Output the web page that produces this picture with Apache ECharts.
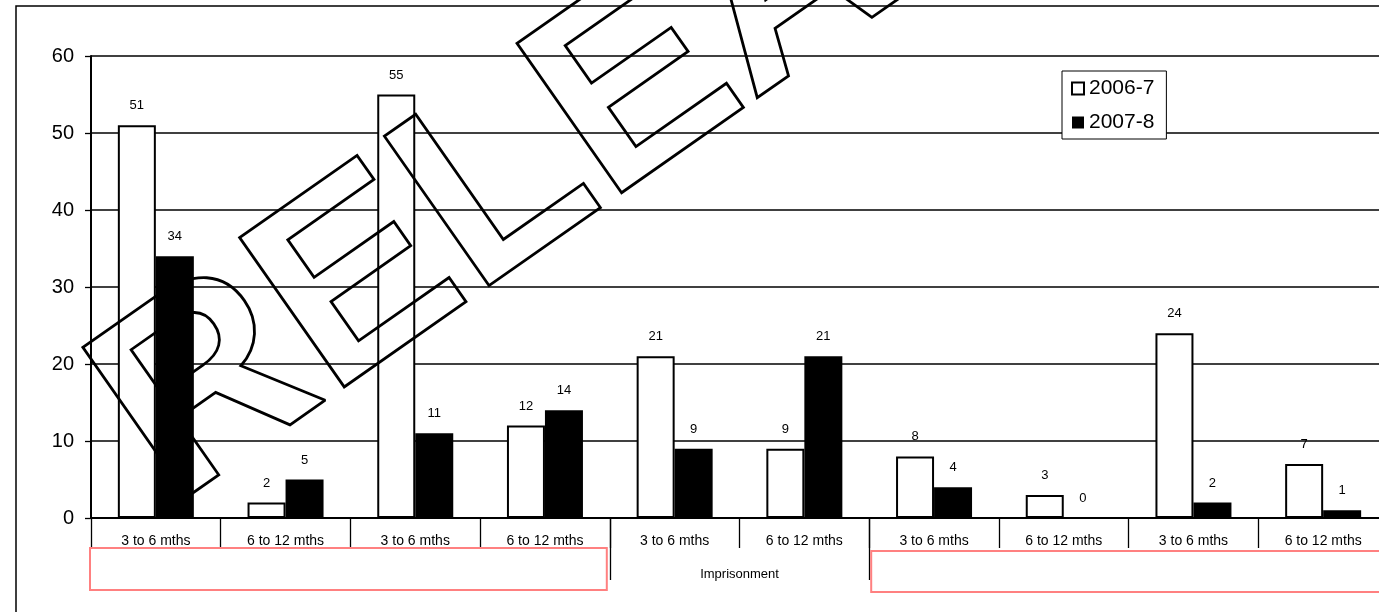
<!DOCTYPE html>
<html><head><meta charset="utf-8">
<script src="https://cdn.jsdelivr.net/npm/echarts@6/dist/echarts.min.js"></script>
<style>html,body{margin:0;padding:0;background:#fff;overflow:hidden;width:1379px;height:612px}#c{width:1388px;height:612px}</style>
</head><body><div id="c"></div>
<script>
const categories = ['3 to 6 mths','6 to 12 mths','3 to 6 mths','6 to 12 mths','3 to 6 mths','6 to 12 mths','3 to 6 mths','6 to 12 mths','3 to 6 mths','6 to 12 mths'];
const seriesNames = ['2006-7','2007-8'];
const values2006 = [51, 2, 55, 12, 21, 9, 8, 3, 24, 7];
const values2007 = [34, 5, 11, 14, 9, 21, 4, 0, 2, 1];
const yTicks = [0, 10, 20, 30, 40, 50, 60];
const groupLabel = 'Imprisonment';
const watermarkText = 'RELEASED';

const FONT = '"Liberation Sans", Arial, sans-serif';
const chart = echarts.init(document.getElementById('c'), null, {renderer: 'canvas'});
const option = {
  animation: false,
  backgroundColor: '#fff',
  grid: {left: 91, right: 0, top: 56, bottom: 94, containLabel: false},
  legend: {
    orient: 'vertical', left: 1062, top: 71, padding: [7, 12, 6, 9],
    itemGap: 13, itemWidth: 12, itemHeight: 12, icon: 'rect',
    borderColor: '#000', borderWidth: 1, backgroundColor: '#fff',
    textStyle: {fontFamily: FONT, fontSize: 21, color: '#000'},
    data: seriesNames
  },
  xAxis: [{
    type: 'category', data: categories, position: 'bottom',
    axisLine: {lineStyle: {color: '#000', width: 2}},
    axisTick: {show: true, length: 30, lineStyle: {color: '#000', width: 1.3}},
    axisLabel: {fontFamily: FONT, fontSize: 14, color: '#000', margin: 16, interval: 0}
  }, {
    type: 'value', min: 0, max: categories.length, position: 'bottom',
    axisLine: {show: false}, splitLine: {show: false},
    axisTick: {show: true, customValues: [4, 6], length: 62, lineStyle: {color: '#000', width: 1.3}},
    axisLabel: {customValues: [5], formatter: () => groupLabel, fontFamily: FONT, fontSize: 13, color: '#000', margin: 50}
  }],
  yAxis: {
    type: 'value', min: yTicks[0], max: yTicks[yTicks.length - 1], interval: 10,
    axisLine: {show: true, lineStyle: {color: '#000', width: 2}},
    axisTick: {show: true, inside: false, length: 6, lineStyle: {color: '#000', width: 1.3}},
    axisLabel: {fontFamily: FONT, fontSize: 20, color: '#000', margin: 17},
    splitLine: {show: true, lineStyle: {color: '#000', width: 1.5}}
  },
  series: [{
    name: seriesNames[0], type: 'bar', data: values2006, barWidth: 38, barGap: '0%',
    itemStyle: {color: '#fff', borderColor: '#000', borderWidth: 2},
    label: {show: true, position: 'top', distance: 13, fontFamily: FONT, fontSize: 13, color: '#000'}
  }, {
    name: seriesNames[1], type: 'bar', data: values2007, barWidth: 38, barGap: '0%',
    itemStyle: {color: '#000', borderColor: '#000', borderWidth: 0},
    label: {show: true, position: 'top', distance: 13, fontFamily: FONT, fontSize: 13, color: '#000'}
  }]
};
chart.setOption(option);

const px = v => chart.convertToPixel({xAxisIndex: 1}, v);
const x0 = px(0), x4 = px(4), x6 = px(6), x10 = px(10);
const ang = 35 * Math.PI / 180;
chart.setOption({
  graphic: [
    {type: 'rect', silent: true, z: 0, shape: {x: 16, y: 6, width: 1500, height: 700}, style: {fill: 'none', stroke: '#000', lineWidth: 1.5}},
    {type: 'rect', silent: true, z: 5, shape: {x: x0 - 1, y: 548, width: x4 - x0 - 2, height: 42}, style: {fill: 'none', stroke: '#ff8080', lineWidth: 2}},
    {type: 'rect', silent: true, z: 5, shape: {x: x6 + 2, y: 551, width: x10 - x6 + 20, height: 41}, style: {fill: 'none', stroke: '#ff8080', lineWidth: 2}},
    {type: 'text', silent: true, z: 100, x: 131, y: 447, rotation: ang,
      style: {text: watermarkText, font: 'bold 265px "Liberation Sans", Arial, sans-serif', fill: 'none', stroke: '#000', lineWidth: 2.8, align: 'left', verticalAlign: 'middle'}}
  ]
});
</script></body></html>
